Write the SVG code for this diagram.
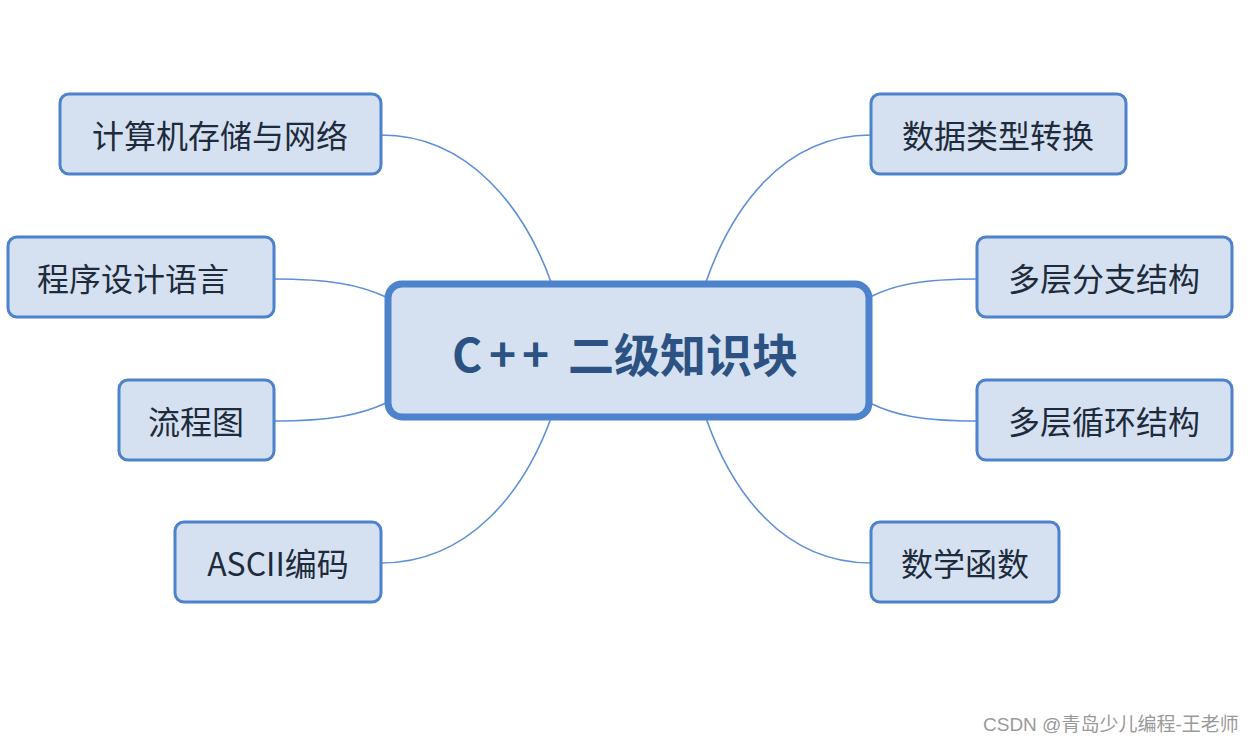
<svg xmlns="http://www.w3.org/2000/svg" width="1256" height="746" viewBox="0 0 1256 746">
<style>
.node rect{fill:#D5E1F0;stroke:#4D82CC;stroke-width:3}
.node text{font-family:"Noto Sans CJK SC","Microsoft YaHei",sans-serif;font-size:32px;fill:#1E2B3C;text-anchor:middle;dominant-baseline:central}
#center rect{stroke-width:7}
#center text{font-size:46px;font-weight:bold;fill:#2C5284;text-anchor:start}
.conn path{fill:none;stroke:#5E90D8;stroke-width:1.6}
.wm{font-family:"Liberation Sans","Noto Sans CJK SC",sans-serif;font-size:19px;fill:#9a9a9a}
</style>
<rect width="1256" height="746" fill="#fff"/>
<g class="conn">
<path d="M381,135 C470,135 525,210 551,282"/>
<path d="M274,279 C330,279 360,285 386,297"/>
<path d="M274,421 C330,421 360,415 386,403"/>
<path d="M381,563 C470,563 525,490 551,418"/>
<path d="M871,135 C782,135 731,210 706,282"/>
<path d="M977,279 C921,279 894,285 870,297"/>
<path d="M977,421 C921,421 894,415 870,403"/>
<path d="M871,563 C782,563 731,490 706,418"/>
</g>
<g id="center" class="node"><rect x="388" y="284" width="481" height="133" rx="14"/><text x="452 489 522 548 568" y="352">C++ 二级知识块</text></g>
<g id="n1" class="node"><rect x="60" y="94" width="321" height="80" rx="9"/><text x="220" y="134">计算机存储与网络</text></g>
<g id="n2" class="node"><rect x="8" y="237" width="266" height="80" rx="9"/><text x="133" y="277">程序设计语言</text></g>
<g id="n3" class="node"><rect x="119" y="380" width="155" height="80" rx="9"/><text x="196" y="420">流程图</text></g>
<g id="n4" class="node"><rect x="175" y="522" width="206" height="80" rx="9"/><text x="278" y="562">ASCII编码</text></g>
<g id="n5" class="node"><rect x="871" y="94" width="255" height="80" rx="9"/><text x="998" y="134">数据类型转换</text></g>
<g id="n6" class="node"><rect x="977" y="237" width="255" height="80" rx="9"/><text x="1104" y="277">多层分支结构</text></g>
<g id="n7" class="node"><rect x="977" y="380" width="255" height="80" rx="9"/><text x="1104" y="420">多层循环结构</text></g>
<g id="n8" class="node"><rect x="871" y="522" width="188" height="80" rx="9"/><text x="965" y="562">数学函数</text></g>
<text class="wm" x="983" y="731">CSDN @青岛少儿编程-王老师</text>
</svg>
